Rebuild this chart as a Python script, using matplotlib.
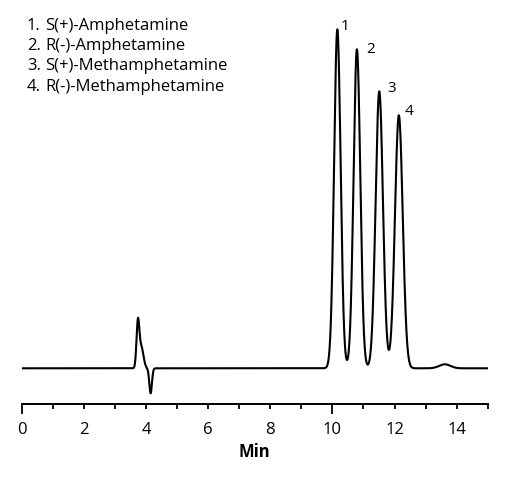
import numpy as np
import matplotlib
matplotlib.use("Agg")
import matplotlib.pyplot as plt

plt.rcParams['font.family'] = ['Open Sans', 'DejaVu Sans']

# compounds (legend) and their peaks
compostos = ["S(+)-Amphetamine", "R(-)-Amphetamine",
             "S(+)-Methamphetamine", "R(-)-Methamphetamine"]
tempos_ret = [10.16, 10.79, 11.51, 12.14]      # min
alturas = [339, 319, 277, 253]                 # detector response (a.u.)
larguras = [0.105, 0.108, 0.118, 0.125]        # peak sigma (min)

# solvent front disturbance + small late bump
tempos_extra = [3.74, 3.85, 4.15, 13.62]
alturas_extra = [44, 21, -25, 4]
larguras_extra = [0.045, 0.07, 0.042, 0.18]

ticks_x = [0, 2, 4, 6, 8, 10, 12, 14]

# label offsets for peak numbers (points)
offsets_rotulo = [(2.5, 2.0), (7, 0.0), (5.5, 1.8), (4.5, 3.0)]


def sinal(t, centros, alts, sigmas):
    y = np.zeros_like(t)
    for c, a, s in zip(centros, alts, sigmas):
        y += a * np.exp(-0.5 * ((t - c) / s) ** 2)
    return y


t = np.linspace(0, 15, 4001)
y = sinal(t, tempos_ret + tempos_extra, alturas + alturas_extra,
          larguras + larguras_extra)

fig = plt.figure(figsize=(5.07, 4.78), dpi=100)
ax = fig.add_axes([21.7 / 507, 74 / 478, 466 / 507, 394 / 478])
ax.plot(t, y, color='black', lw=1.5)
ax.set_xlim(0, 15)
ax.set_ylim(-35.7, 358.3)

for s in ['top', 'right', 'left']:
    ax.spines[s].set_visible(False)
ax.spines['bottom'].set_linewidth(1.4)
ax.set_yticks([])
ax.set_xticks(ticks_x)
ax.set_xticks(range(0, 16), minor=True)
ax.tick_params(axis='x', which='both', direction='out', length=3.6, width=1.3,
               labelsize=12, pad=9)
# longer ticks at 0 and 10
for tk, v in zip(ax.xaxis.get_major_ticks(), ticks_x):
    if v in (0, 10):
        tk.tick1line.set_markersize(7.2)
ax.set_xlabel('Min', fontsize=12, fontweight='bold', labelpad=4)

# peak numbers
for i, (tr, h) in enumerate(zip(tempos_ret, alturas)):
    ax.annotate(str(i + 1), (tr, h), xytext=offsets_rotulo[i],
                textcoords='offset points', ha='left', va='center', fontsize=11)

# compound list
for i, nome in enumerate(compostos):
    yy = 1 - (26 + i * 20.2) / 478
    fig.text(27 / 507, yy, f"{i + 1}.", fontsize=12, va='center', ha='left')
    fig.text(45 / 507, yy, nome, fontsize=12, va='center', ha='left')

fig.savefig('out.png', dpi=100)
